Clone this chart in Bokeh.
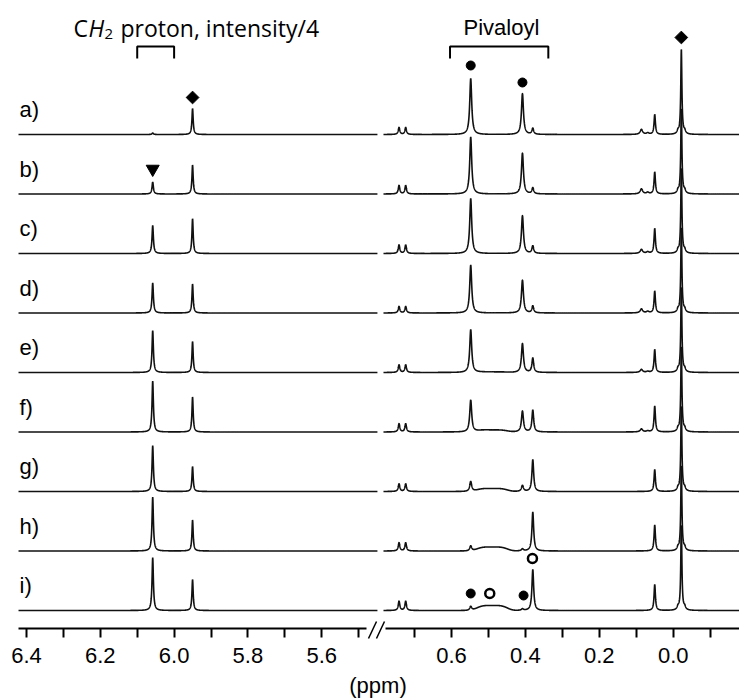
import numpy as np
from bokeh.plotting import figure
from bokeh.models import Range1d, LinearAxis, FixedTicker
from bokeh.core.properties import value
from bokeh.embed import file_html
from bokeh.resources import INLINE

# ---------------- data ----------------
LABELS = ["a)", "b)", "c)", "d)", "e)", "f)", "g)", "h)", "i)"]

# left window (CH2 region, intensity/4)
CH2_PPM = 6.058
CH2_H = [1.5, 12, 28, 30, 42, 51, 46, 54, 53]
REFL_PPM = 5.950
REFL_H = [26, 29, 35, 29, 31, 35, 25, 31, 31]

# right window
PIV1_PPM = 0.548
PIV1_H = [56, 57, 55, 48, 43, 32, 10, 5, 4]
PIV2_PPM = 0.408
PIV2_H = [41, 41, 38, 33, 29, 21, 6, 2, 1.5]
FREE_PPM = 0.380
FREE_H = [6, 6, 7.5, 7, 14.5, 22, 32, 39, 41]
DBL_PPM = [0.742, 0.724]
DBL_H = [7, 8.5, 8.5, 6.5, 7.7, 8.3, 7.7, 8.3, 9.3]
S05_PPM = 0.050
S05_H = [20, 22, 25, 22, 23, 26, 22, 26, 26]
S086_PPM = 0.086
S086_H = [5, 5, 4, 4, 3, 3, 0, 0, 0]
S069_PPM = 0.069
S069_H = [1.5, 1.5, 1.5, 1.5, 1, 1, 0, 0, 0]
TMS_PPM = -0.022
TMS_H = [85, 85, 85, 85, 85, 85, 85, 85, 85]
HUMP_PPM = 0.490
HUMP_H = [0, 0, 0, 0, 0.5, 2, 3, 4, 5]

SPACING = 59.5

# tick values / labels
TICKS_L = [6.4, 6.2, 6.0, 5.8, 5.6]
TICKLAB_L = ["6.4", "6.2", "6.0", "5.8", "5.6"]
MINOR_L = [6.3, 6.1, 5.9, 5.7, 5.5]
TICKS_R = [0.6, 0.4, 0.2, 0.0]
TICKLAB_R = ["0.6", "0.4", "0.2", "0.0"]
MINOR_R = [0.7, 0.5, 0.3, 0.1, -0.1]
X_UNIT = "(ppm)"

# annotation symbols: (ppm, spectrum index, height above that spectrum's baseline)
DIAMOND_L = (5.950, 0, 37)
TRIANGLE_L = (6.058, 1, 25)
DIAMOND_R = (-0.022, 0, 97)
FILLED_R = [(0.548, 0, 69), (0.408, 0, 52), (0.548, 8, 17), (0.405, 8, 15)]
OPEN_R = [(0.4965, 8, 17), (0.381, 8, 52)]

BRACKET_L = (6.10, 6.00)
BRACKET_R = (0.604, 0.338)

# ---------------- geometry ----------------
L_START, L_END = 6.4705, 4.4678
R_START, R_END = 1.8206, -0.1794
L_DATA = (6.4217, 5.449)
R_DATA = (0.7841, -0.1794)
AXIS_Y = -18

def base(j):
    return SPACING * (8 - j)

def lor(x, x0, h, w):
    return h / (1.0 + ((x - x0) / w) ** 2)

xl = np.linspace(L_DATA[0], L_DATA[1], 2400)
xr = np.linspace(R_DATA[0], R_DATA[1], 2600)

left_xs, left_ys, right_xs, right_ys = [], [], [], []
for j in range(9):
    yl = (lor(xl, CH2_PPM, CH2_H[j], 0.0022) + lor(xl, REFL_PPM, REFL_H[j], 0.0020))
    left_xs.append(xl)
    left_ys.append(yl + base(j))
    yr = (lor(xr, PIV1_PPM, PIV1_H[j], 0.0032)
          + lor(xr, PIV2_PPM, PIV2_H[j], 0.0032)
          + lor(xr, FREE_PPM, FREE_H[j], 0.0028)
          + lor(xr, DBL_PPM[0], DBL_H[j], 0.0025)
          + lor(xr, DBL_PPM[1], DBL_H[j], 0.0025)
          + lor(xr, S05_PPM, S05_H[j], 0.0022)
          + lor(xr, S086_PPM, S086_H[j], 0.004)
          + lor(xr, S069_PPM, S069_H[j], 0.004)
          + lor(xr, TMS_PPM, TMS_H[j], 0.0018)
          + lor(xr, TMS_PPM - 0.009, 3.0, 0.003)
          + lor(xr, TMS_PPM + 0.009, 3.0, 0.003)
          + HUMP_H[j] * np.exp(-((xr - HUMP_PPM) / 0.045) ** 4))
    right_xs.append(xr)
    right_ys.append(yr + base(j))

# ---------------- figure ----------------
p = figure(frame_width=739, frame_height=698, output_backend="svg", toolbar_location=None,
           x_range=Range1d(L_START, L_END), y_range=Range1d(-88, 610),
           x_axis_location=None, y_axis_location=None,
           min_border_left=0, min_border_right=0, min_border_top=0, min_border_bottom=0)
p.extra_x_ranges = {"right": Range1d(R_START, R_END)}
p.outline_line_color = None
p.xgrid.visible = False
p.ygrid.visible = False
p.background_fill_color = "white"
p.border_fill_color = "white"

LC = "#111111"
p.multi_line(xs=left_xs, ys=left_ys, line_color=LC, line_width=1.6)
p.multi_line(xs=right_xs, ys=right_ys, line_color=LC, line_width=1.6, x_range_name="right")

def style_axis(ax):
    ax.axis_line_width = 2
    ax.axis_line_color = "black"
    ax.major_tick_line_width = 2
    ax.minor_tick_line_width = 2
    ax.major_tick_in = 0
    ax.minor_tick_in = 0
    ax.major_tick_out = 9
    ax.minor_tick_out = 9
    ax.major_label_text_font = "Liberation Sans"
    ax.major_label_text_font_size = "22px"
    ax.major_label_text_color = "black"
    ax.major_label_standoff = 10

ax_l = LinearAxis(ticker=FixedTicker(ticks=TICKS_L, minor_ticks=MINOR_L),
                  bounds=(5.479, L_DATA[0]), fixed_location=AXIS_Y,
                  major_label_overrides={t: s for t, s in zip(TICKS_L, TICKLAB_L)})
style_axis(ax_l)
p.add_layout(ax_l, "below")

ax_r = LinearAxis(x_range_name="right", ticker=FixedTicker(ticks=TICKS_R, minor_ticks=MINOR_R),
                  bounds=(R_END, 0.7787), fixed_location=AXIS_Y,
                  major_label_overrides={t: s for t, s in zip(TICKS_R, TICKLAB_R)})
style_axis(ax_r)
p.add_layout(ax_r, "below")

# axis break marks (two slashes)
BRK_X0 = [5.4732, 5.4516]
BRK_DX = 0.0217
p.segment(x0=BRK_X0, y0=[AXIS_Y - 10] * 2, x1=[x - BRK_DX for x in BRK_X0],
          y1=[AXIS_Y + 7] * 2, line_color="black", line_width=1.5)

# x unit label, centred under the break
p.text(x=[5.4475], y=[-75], text=[X_UNIT], text_font=value("Liberation Sans"),
       text_font_size="22px", text_color="black", text_baseline="middle", text_align="center")

# spectrum labels
p.text(x=[6.419] * 9, y=[base(j) + 25 for j in range(9)], text=LABELS,
       text_font=value("Liberation Sans"), text_font_size="22px", text_color="black",
       text_baseline="alphabetic", text_align="left")

# brackets
TOP_Y = 564
LEG_Y = 552
p.multi_line(xs=[[BRACKET_L[0], BRACKET_L[0], BRACKET_L[1], BRACKET_L[1]]],
             ys=[[LEG_Y, TOP_Y, TOP_Y, LEG_Y]], line_color="black", line_width=2)
p.multi_line(xs=[[BRACKET_R[0], BRACKET_R[0], BRACKET_R[1], BRACKET_R[1]]],
             ys=[[LEG_Y, TOP_Y, TOP_Y, LEG_Y]], line_color="black", line_width=2,
             x_range_name="right")

# titles
TY = 583
tx = 6.2727
TF = value("Open Sans")
p.text(x=[tx], y=[TY], text=["C"], text_font=TF, text_font_size="23px",
       text_baseline="middle", text_align="left", text_color="black")
p.text(x=[tx], y=[TY], text=["H"], text_font=TF, text_font_size="23px",
       text_font_style="italic", text_baseline="middle", text_align="left", text_color="black",
       x_offset=15)
p.text(x=[tx], y=[TY], text=["2"], text_font=TF, text_font_size="15px",
       text_baseline="middle", text_align="left", text_color="black", x_offset=31, y_offset=6)
p.text(x=[tx], y=[TY], text=["proton, intensity/4"], text_font=TF,
       text_font_size="23px", text_baseline="middle", text_align="left", text_color="black",
       x_offset=47)
p.text(x=[0.465], y=[TY], text=["Pivaloyl"], text_font=value("Liberation Sans"),
       text_font_size="22px", text_baseline="middle", text_align="center", text_color="black",
       x_range_name="right")

# symbols
p.scatter(x=[DIAMOND_L[0]], y=[base(DIAMOND_L[1]) + DIAMOND_L[2]], marker="square",
          angle=np.pi / 4, size=9, color="black")
p.scatter(x=[TRIANGLE_L[0]], y=[base(TRIANGLE_L[1]) + TRIANGLE_L[2]], marker="inverted_triangle",
          size=13, color="black")
p.scatter(x=[DIAMOND_R[0]], y=[base(DIAMOND_R[1]) + DIAMOND_R[2]], marker="square",
          angle=np.pi / 4, size=9, color="black", x_range_name="right")
p.scatter(x=[f[0] for f in FILLED_R], y=[base(f[1]) + f[2] for f in FILLED_R], marker="circle",
          size=9, color="black", x_range_name="right")
p.scatter(x=[o[0] for o in OPEN_R], y=[base(o[1]) + o[2] for o in OPEN_R], marker="circle",
          size=9, fill_color="white", line_color="black", line_width=2.5, x_range_name="right")

open("out.html", "w").write(file_html(p, INLINE))
